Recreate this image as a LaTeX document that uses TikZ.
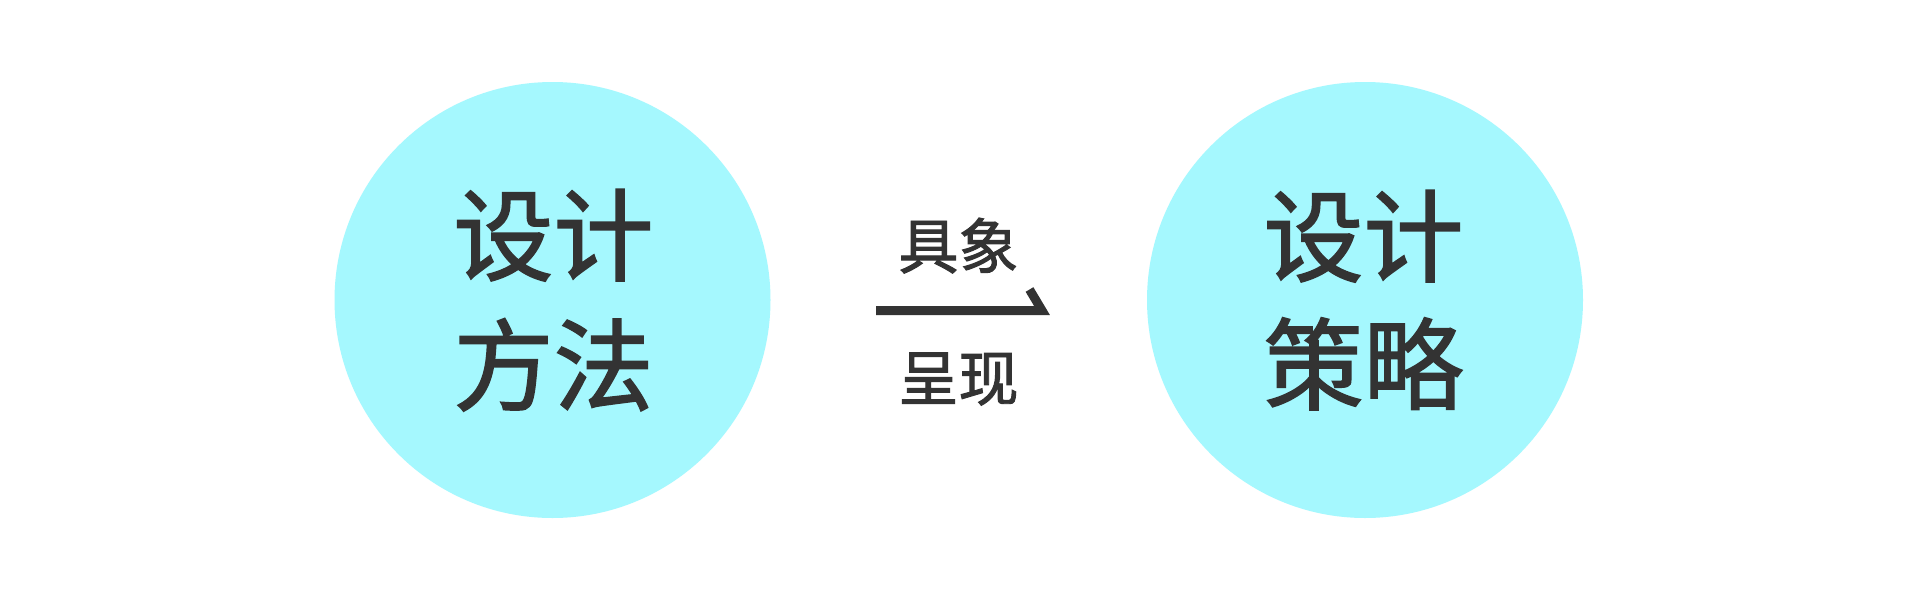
\documentclass[tikz,border=0pt]{standalone}
\usepackage{fontspec}
\newfontfamily\cjk[FakeBold=1.6]{Noto Sans CJK SC}
\definecolor{bubble}{HTML}{A5F8FE}
\definecolor{ink}{HTML}{333333}
\tikzset{
  bubblecircle/.style={circle, fill=bubble, draw=none, minimum size=436pt, inner sep=0pt},
  bigtext/.style={anchor=base, inner sep=0pt, text=ink, font=\cjk\fontsize{100}{100}\selectfont},
  midtext/.style={anchor=base, inner sep=0pt, text=ink, font=\cjk\fontsize{60}{60}\selectfont},
  hookline/.style={draw=ink, line width=9pt, line join=miter, line cap=butt},
}
\begin{document}
\begin{tikzpicture}[x=1pt,y=-1pt]
\useasboundingbox (0,0) rectangle (1920,600);
\fill[white] (0,0) rectangle (1920,600);
\node[bubblecircle] (left) at (552.5,300) {};
\node[bubblecircle] (right) at (1365,300) {};
\node[bigtext] (l1) at (553.5,273) {设计};
\node[bigtext] (l2) at (553.5,403) {方法};
\node[bigtext] (r1) at (1363.5,274) {设计};
\node[bigtext] (r2) at (1363.5,402) {策略};
\node[midtext] (m1) at (958.5,268.5) {具象};
\node[midtext] (m2) at (958.5,400.5) {呈现};
\coordinate (hs) at (876,310.5);
\coordinate (hj) at (1042,310.5);
\coordinate (ht) at (1029.5,289.5);
\draw[hookline] (hs) -- (hj) -- (ht);
\end{tikzpicture}
\end{document}
